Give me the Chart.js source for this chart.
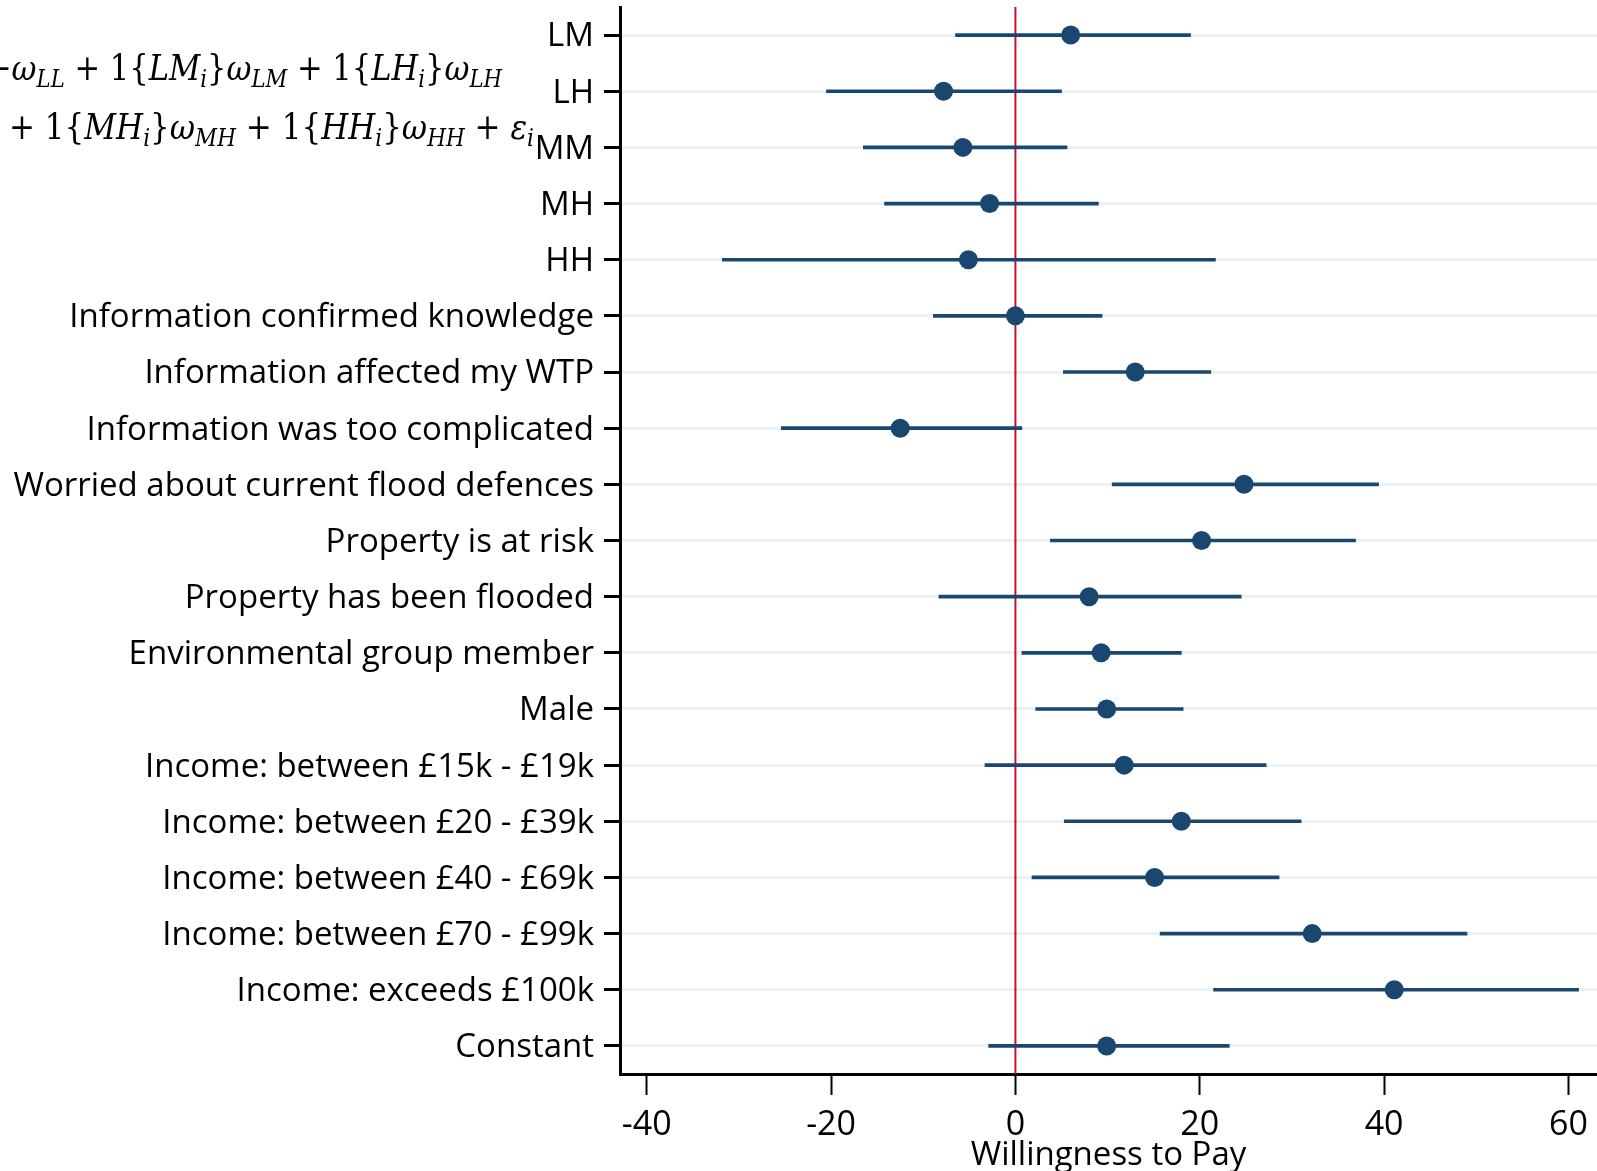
<!DOCTYPE html>
<html>
<head>
<meta charset="utf-8">
<script src="https://cdn.jsdelivr.net/npm/chart.js@4.4.0/dist/chart.umd.min.js"></script>
<style>
    html, body { margin: 0; padding: 0; background: #fff; }
    #wrap { width: 1597px; height: 1171px; position: relative; }
</style>
</head>
<body>
<div id="wrap"><canvas id="chart"></canvas></div>
<script>
// rows of the coefficient plot, top to bottom
const rowLabels = [
    'LM', 'LH', 'MM', 'MH', 'HH',
    'Information confirmed knowledge',
    'Information affected my WTP',
    'Information was too complicated',
    'Worried about current flood defences',
    'Property is at risk',
    'Property has been flooded',
    'Environmental group member',
    'Male',
    'Income: between £15k - £19k',
    'Income: between £20 - £39k',
    'Income: between £40 - £69k',
    'Income: between £70 - £99k',
    'Income: exceeds £100k',
    'Constant'
];
const estimates = [6.0, -7.8, -5.7, -2.8, -5.1, 0.0, 13.0, -12.5, 24.8, 20.2, 8.0, 9.3, 9.9, 11.8, 18.0, 15.1, 32.2, 41.1, 9.9];
const ciLow     = [-6.5, -20.5, -16.5, -14.2, -31.8, -8.9, 5.2, -25.4, 10.5, 3.8, -8.3, 0.7, 2.2, -3.3, 5.3, 1.8, 15.7, 21.5, -2.9];
const ciHigh    = [19.0, 5.0, 5.6, 9.0, 21.7, 9.4, 21.2, 0.7, 39.4, 36.9, 24.5, 18.0, 18.2, 27.2, 31.0, 28.6, 49.0, 61.1, 23.2];
const xTicks = [-40, -20, 0, 20, 40, 60];

// model equation fragment pasted over the top left corner
// each piece: [text, style]  n = upright, i = italic, s = italic subscript
const formulaLines = [
    [['+', 'n'], ['ω', 'i'], ['LL', 's'], [' + 1{', 'n'], ['LM', 'i'], ['i', 's'], ['}', 'n'], ['ω', 'i'], ['LM', 's'],
     [' + 1{', 'n'], ['LH', 'i'], ['i', 's'], ['}', 'n'], ['ω', 'i'], ['LH', 's']],
    [['+ 1{', 'n'], ['MH', 'i'], ['i', 's'], ['}', 'n'], ['ω', 'i'], ['MH', 's'], [' + 1{', 'n'], ['HH', 'i'], ['i', 's'],
     ['}', 'n'], ['ω', 'i'], ['HH', 's'], [' + ', 'n'], ['ε', 'i'], ['i', 's']]
];

const navy = '#1a476f';
const textFont = "'Open Sans', 'Noto Sans', sans-serif";

const zeroLine = {
    id: 'zeroLine',
    beforeDatasetsDraw(chart) {
        const { ctx, chartArea, scales } = chart;
        const x = scales.x.getPixelForValue(0);
        ctx.save();
        ctx.beginPath();
        ctx.moveTo(x, chartArea.top);
        ctx.lineTo(x, chartArea.bottom);
        ctx.strokeStyle = '#c8102e';
        ctx.lineWidth = 2;
        ctx.stroke();
        ctx.restore();
    }
};

const formula = {
    id: 'formula',
    afterDraw(chart) {
        const ctx = chart.ctx;
        const size = 36;
        const fontFor = (s) => (s === 'n' ? '' : 'italic ') + (s === 's' ? Math.round(size * 0.7) : size) + "px 'DejaVu Serif', serif";
        const starts = [[-14, 80, 502], [9, 139, 534]]; // x start, baseline, right end
        ctx.save();
        ctx.fillStyle = '#000';
        ctx.textBaseline = 'alphabetic';
        formulaLines.forEach((parts, li) => {
            // measure first so the line can be fitted to its width
            let w = 0;
            parts.forEach(([t, s]) => {
                ctx.font = fontFor(s);
                w += ctx.measureText(t).width;
            });
            const [x0, base, x1] = starts[li];
            const k = (x1 - x0) / w;
            let x = x0;
            parts.forEach(([t, s]) => {
                ctx.font = fontFor(s);
                const tw = ctx.measureText(t).width;
                ctx.save();
                ctx.translate(x, base + (s === 's' ? 7 : 0));
                ctx.scale(k, 1);
                ctx.fillText(t, 0, 0);
                ctx.restore();
                x += tw * k;
            });
        });
        ctx.restore();
    }
};

const ctx = document.getElementById('chart').getContext('2d');
new Chart(ctx, {
    type: 'bar',
    data: {
        labels: rowLabels,
        datasets: [
            {
                type: 'line',
                data: estimates,
                showLine: false,
                pointRadius: 9.5,
                pointBackgroundColor: navy,
                pointBorderWidth: 0,
                order: 0
            },
            {
                type: 'bar',
                data: ciLow.map((lo, i) => [lo, ciHigh[i]]),
                backgroundColor: navy,
                barThickness: 3,
                borderSkipped: false,
                order: 1
            }
        ]
    },
    options: {
        indexAxis: 'y',
        responsive: true,
        maintainAspectRatio: false,
        animation: false,
        layout: { autoPadding: false, padding: { top: 7, right: 0, left: 0, bottom: 0 } },
        plugins: { legend: { display: false }, tooltip: { enabled: false } },
        scales: {
            x: {
                type: 'linear',
                min: -42.9,
                max: 63.1,
                afterBuildTicks: (axis) => { axis.ticks = xTicks.map(v => ({ value: v })); },
                afterFit: (axis) => { axis.height = 97; axis.paddingLeft = 0; axis.paddingRight = 0; },
                grid: { drawOnChartArea: false, drawTicks: true, tickLength: 21, tickColor: '#000', tickWidth: 2 },
                border: { color: '#000', width: 3 },
                ticks: { color: '#000', font: { family: textFont, size: 34 }, padding: 10, maxRotation: 0 },
                title: { display: true, text: 'Willingness to Pay', color: '#000',
                         font: { family: textFont, size: 33 }, padding: { top: 0, bottom: -4 } }
            },
            y: {
                type: 'category',
                offset: true,
                afterFit: (axis) => { axis.width = 620; axis.paddingTop = 0; axis.paddingBottom = 0; },
                grid: { offset: false, color: '#eaf2f3', lineWidth: 3, drawTicks: true,
                        tickLength: 16, tickColor: '#000', tickWidth: 3 },
                border: { color: '#000', width: 3 },
                ticks: { color: '#000', font: { family: textFont, size: 33 }, padding: 10, labelOffset: 2, autoSkip: false }
            }
        }
    },
    plugins: [zeroLine, formula]
});
</script>
</body>
</html>
